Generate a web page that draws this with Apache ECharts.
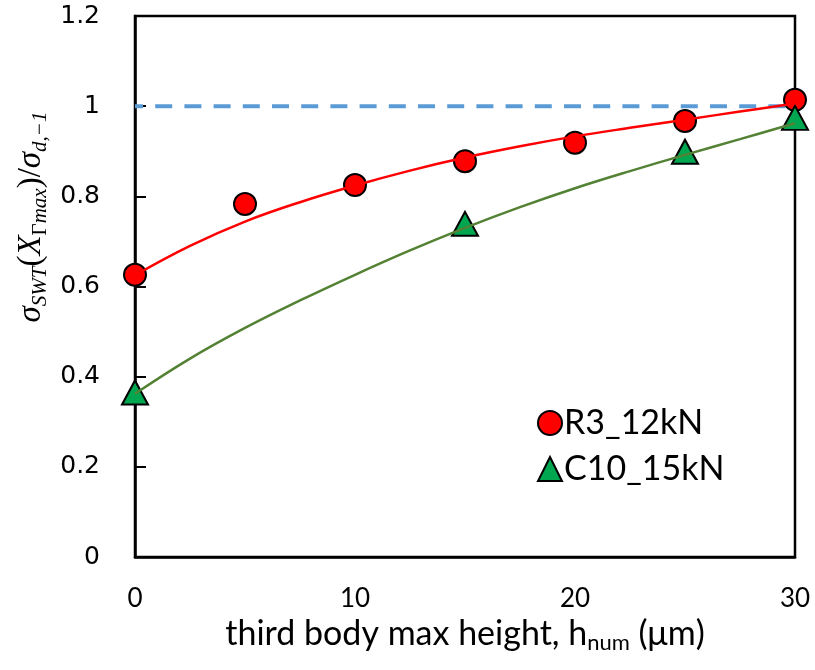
<!DOCTYPE html>
<html>
<head>
<meta charset="utf-8">
<script src="https://cdn.jsdelivr.net/npm/echarts@6/dist/echarts.min.js"></script>
<style>html,body{margin:0;padding:0;background:#fff}#c{width:815px;height:670px}</style>
</head>
<body>
<div id="c"></div>
<script>
// Measured points
const r3X = [0, 5, 10, 15, 20, 25, 30];
const r3Y = [0.626, 0.783, 0.825, 0.878, 0.919, 0.967, 1.014];
const c10X = [0, 15, 25, 30];
const c10Y = [0.365, 0.739, 0.899, 0.974];
// Trend curves
const fitX = [0, 2.5, 5, 7.5, 10, 12.5, 15, 17.5, 20, 22.5, 25, 27.5, 30];
const r3FitY = [0.625, 0.690, 0.744, 0.787, 0.824, 0.857, 0.886, 0.911, 0.933, 0.952, 0.970, 0.988, 1.006];
const c10FitY = [0.362, 0.440, 0.508, 0.569, 0.626, 0.680, 0.730, 0.776, 0.818, 0.856, 0.892, 0.927, 0.962];
// Reference line
const refX = [0, 30];
const refY = [1, 1];
const xTicks = [0, 10, 20, 30];
const yTicks = [0, 0.2, 0.4, 0.6, 0.8, 1, 1.2];

const zip = (xs, ys) => xs.map((x, i) => [x, ys[i]]);

const chart = echarts.init(document.getElementById('c'), null, {renderer: 'canvas'});
chart.setOption({
  animation: false,
  backgroundColor: '#fff',
  grid: {left: 135, right: 20, top: 16, bottom: 113, show: true, borderColor: '#000', borderWidth: 2.5, backgroundColor: 'transparent'},
  xAxis: {
    type: 'value', min: xTicks[0], max: xTicks[xTicks.length - 1], interval: 10,
    axisLine: {show: true, onZero: false, lineStyle: {color: '#000', width: 2.5}},
    axisTick: {show: false},
    splitLine: {show: false},
    axisLabel: {margin: 29, fontFamily: 'Lato', fontSize: 26, color: '#000'},
    name: '{n|third body max height, h}{sub|num}{n| (μm)}',
    nameLocation: 'middle', nameGap: 53,
    nameTextStyle: {
      rich: {
        n: {fontFamily: 'Lato', fontSize: 34, color: '#000', lineHeight: 40, verticalAlign: 'middle'},
        sub: {fontFamily: 'Lato', fontSize: 22, color: '#000', lineHeight: 22, verticalAlign: 'bottom'}
      }
    }
  },
  yAxis: {
    type: 'value', min: yTicks[0], max: yTicks[yTicks.length - 1], interval: 0.2,
    axisLine: {show: true, onZero: false, lineStyle: {color: '#000', width: 2.5}},
    axisTick: {show: true, inside: true, length: 11, lineStyle: {color: '#000', width: 2}},
    splitLine: {show: false},
    axisLabel: {margin: 35, fontFamily: 'DejaVu Sans', fontSize: 25, color: '#000'}
  },
  legend: {
    orient: 'vertical', left: 532, top: 401, itemGap: 12,
    itemWidth: 24, itemHeight: 24,
    textStyle: {fontFamily: 'Lato', fontSize: 34, color: '#000', padding: [0, 0, 0, -3]},
    data: ['R3_12kN', 'C10_15kN']
  },
  graphic: [{
    type: 'text', x: 31, y: 217, rotation: Math.PI / 2,
    style: {
      text: '{s|σ}{sub|SWT}{p|(}{s|X}{subg|Γ}{sub|max}{p|)/}{s|σ}{sub|d,−1}',
      align: 'center', verticalAlign: 'middle',
      rich: {
        s: {fontFamily: 'Liberation Serif', fontStyle: 'italic', fontSize: 33, fill: '#000', lineHeight: 40, verticalAlign: 'middle'},
        p: {fontFamily: 'Liberation Serif', fontSize: 33, fill: '#000', lineHeight: 40, verticalAlign: 'middle'},
        sub: {fontFamily: 'Liberation Serif', fontStyle: 'italic', fontSize: 21, fill: '#000', lineHeight: 21, verticalAlign: 'bottom'},
        subg: {fontFamily: 'Liberation Serif', fontSize: 21, fill: '#000', lineHeight: 21, verticalAlign: 'bottom'}
      }
    }
  }],
  series: [
    {
      name: 'ref', type: 'line', data: zip(refX, refY), showSymbol: false, z: 1,
      lineStyle: {color: '#5B9BD5', width: 4, type: [17, 12.2], dashOffset: 9}, silent: true
    },
    {
      name: 'R3_12kN', type: 'scatter', data: zip(r3X, r3Y), symbol: 'circle', symbolSize: 22, z: 2,
      itemStyle: {color: '#FF0000', borderColor: '#000', borderWidth: 2, opacity: 1}
    },
    {
      name: 'C10_15kN', type: 'scatter', data: zip(c10X, c10Y), symbol: 'triangle', symbolSize: [26, 24], z: 2,
      itemStyle: {color: '#00A650', borderColor: '#000', borderWidth: 2, opacity: 1}
    },
    {
      name: 'r3fit', type: 'line', data: zip(fitX, r3FitY), smooth: 0.4, showSymbol: false, z: 3,
      lineStyle: {color: '#FF0000', width: 2.5}, silent: true
    },
    {
      name: 'c10fit', type: 'line', data: zip(fitX, c10FitY), smooth: 0.4, showSymbol: false, z: 3,
      lineStyle: {color: '#548235', width: 2.5}, silent: true
    }
  ]
});
</script>
</body>
</html>
